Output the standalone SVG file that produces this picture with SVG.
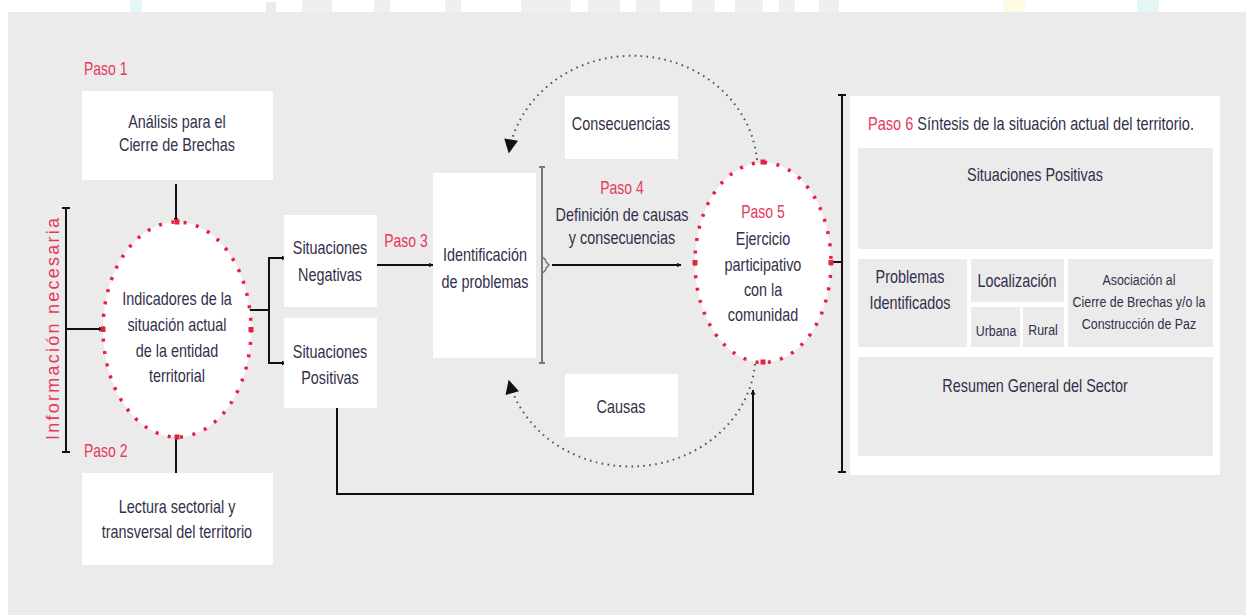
<svg xmlns="http://www.w3.org/2000/svg" width="1246" height="615" viewBox="0 0 1246 615">
<defs>
<style>
text{font-family:"Liberation Sans",Arial,sans-serif;fill:#33304a;font-size:18px;text-anchor:middle}
text:not(.rot){transform-box:fill-box;transform-origin:center;transform:scale(0.8,1)}
text.st{text-anchor:start;transform-origin:left center}
.red{fill:#e8385a;font-size:17.5px}
.sm{font-size:15.5px}
.box{fill:#ffffff}
.gbox{fill:#ebebeb}
.ln{fill:none;stroke:#111;stroke-width:2}
.dots{fill:#ffffff;stroke:#e8203f;stroke-width:3.5;stroke-dasharray:3 9.5}
.arc{fill:none;stroke:#555;stroke-width:2;stroke-dasharray:1.6 4.4}
.sq{fill:#e8203f}
</style>
<marker id="a" viewBox="0 0 10 10" refX="9" refY="5" markerWidth="5" markerHeight="5" orient="auto" markerUnits="userSpaceOnUse"><path d="M0 0 L10 5 L0 10 Z" fill="#111"/></marker>
<marker id="big" viewBox="0 0 10 10" refX="9" refY="5" markerWidth="16" markerHeight="14" orient="auto" markerUnits="userSpaceOnUse"><path d="M0 0 L10 5 L0 10 Z" fill="#111"/></marker>
</defs>
<rect x="0" y="0" width="1246" height="615" fill="#ffffff"/>
<g opacity="0.5">
<rect x="130" y="0" width="12" height="12" fill="#c8f0f0"/>
<rect x="266" y="2" width="10" height="10" fill="#d8d8d8"/>
<rect x="302" y="0" width="30" height="12" fill="#e0e0e0"/>
<rect x="374" y="0" width="16" height="12" fill="#e0e0e0"/>
<rect x="445" y="0" width="16" height="12" fill="#e0e0e0"/>
<rect x="521" y="0" width="50" height="12" fill="#e0e0e0"/>
<rect x="588" y="0" width="32" height="12" fill="#e0e0e0"/>
<rect x="636" y="0" width="24" height="12" fill="#e0e0e0"/>
<rect x="692" y="0" width="23" height="12" fill="#e0e0e0"/>
<rect x="735" y="0" width="28" height="12" fill="#e0e0e0"/>
<rect x="779" y="0" width="16" height="12" fill="#e0e0e0"/>
<rect x="819" y="0" width="20" height="12" fill="#e0e0e0"/>
<rect x="1003" y="0" width="22" height="12" fill="#fff6c8"/>
<rect x="1137" y="0" width="22" height="12" fill="#c8f0f0"/>
</g>
<rect x="8" y="12" width="1238" height="603" fill="#ebebeb"/>

<g id="connectors">
<line class="ln" x1="176" y1="184" x2="176" y2="222" marker-end="url(#a)"/>
<line class="ln" x1="176" y1="437" x2="176" y2="473"/>
<line x1="66" y1="208" x2="66" y2="452" stroke="#111" stroke-width="2"/>
<line x1="62" y1="208" x2="70" y2="208" stroke="#111" stroke-width="2"/>
<line x1="62" y1="452" x2="70" y2="452" stroke="#111" stroke-width="2"/>
<line class="ln" x1="66" y1="329" x2="103" y2="329" marker-end="url(#a)"/>
<polyline class="ln" points="247,310 269,310"/>
<polyline class="ln" points="286,258 269,258 269,363 286,363" marker-end="url(#a)"/>
<line class="ln" x1="270" y1="258" x2="286" y2="258" marker-end="url(#a)"/>
<line class="ln" x1="377" y1="265" x2="433" y2="265" marker-end="url(#a)"/>
<line x1="542" y1="167" x2="542" y2="363" stroke="#777" stroke-width="2"/>
<line x1="539" y1="167" x2="545" y2="167" stroke="#777" stroke-width="2"/>
<line x1="539" y1="363" x2="545" y2="363" stroke="#777" stroke-width="2"/>
<path d="M542 257 Q546 259 546 262 L549 265 L546 268 Q546 271 542 273" fill="none" stroke="#777" stroke-width="1.5"/>
<line class="ln" x1="552" y1="265" x2="681" y2="265" marker-end="url(#a)"/>
<line class="ln" x1="831" y1="262" x2="842" y2="262"/>
<line x1="842" y1="95" x2="842" y2="472" stroke="#111" stroke-width="2"/>
<line x1="838" y1="95" x2="846" y2="95" stroke="#111" stroke-width="2"/>
<line x1="838" y1="472" x2="846" y2="472" stroke="#111" stroke-width="2"/>
<polyline class="ln" points="337,408 337,494 753,494 753,390" marker-end="url(#a)"/>
<path class="arc" d="M757 160 A125 114 0 0 0 509 152" marker-end="url(#big)"/>
<path class="arc" d="M755 364 A125 112 0 0 1 509 381" marker-end="url(#big)"/>
</g>

<text class="red st" x="84" y="75">Paso 1</text>
<text class="red st" x="84" y="457">Paso 2</text>
<text class="red" x="406" y="247">Paso 3</text>
<text class="red rot" transform="translate(59,329) rotate(-90)" style="font-size:18px" textLength="222" lengthAdjust="spacing">Información necesaria</text>

<g id="n1"><rect class="box" x="82" y="91" width="191" height="89"/>
<text x="177" y="128">Análisis para el</text><text x="177" y="151">Cierre de Brechas</text></g>

<g id="n2"><ellipse class="dots" cx="177" cy="329.5" rx="74" ry="107.5"/>
<rect class="sq" x="174.5" y="219.5" width="5" height="5"/><rect class="sq" x="174.5" y="434.5" width="5" height="5"/>
<rect class="sq" x="100.5" y="327" width="5" height="5"/><rect class="sq" x="248.5" y="327" width="5" height="5"/>
<text x="177" y="305">Indicadores de la</text><text x="177" y="331">situación actual</text><text x="177" y="357">de la entidad</text><text x="177" y="382">territorial</text></g>

<g id="n3"><rect class="box" x="82" y="473" width="191" height="92"/>
<text x="177" y="513">Lectura sectorial y</text><text x="177" y="538">transversal del territorio</text></g>

<g id="n4"><rect class="box" x="284" y="215" width="93" height="92"/>
<text x="330" y="254">Situaciones</text><text x="330" y="281">Negativas</text></g>

<g id="n5"><rect class="box" x="284" y="318" width="93" height="90"/>
<text x="330" y="358">Situaciones</text><text x="330" y="384">Positivas</text></g>

<g id="n6"><rect class="box" x="433" y="173" width="103" height="185"/>
<text x="485" y="261">Identificación</text><text x="485" y="288">de problemas</text></g>

<g id="n7"><text class="red" x="622" y="194">Paso 4</text><text x="622" y="221">Definición de causas</text><text x="622" y="244">y consecuencias</text></g>

<g id="n8"><rect class="box" x="565" y="96" width="113" height="63"/><text x="621" y="130">Consecuencias</text></g>
<g id="n9"><rect class="box" x="565" y="374" width="113" height="63"/><text x="621" y="413">Causas</text></g>

<g id="n10"><ellipse class="dots" cx="763" cy="262.5" rx="68" ry="100"/>
<rect class="sq" x="760.5" y="159.5" width="5" height="5"/><rect class="sq" x="760.5" y="359.5" width="5" height="5"/>
<rect class="sq" x="692.5" y="260" width="5" height="5"/><rect class="sq" x="828.5" y="260" width="5" height="5"/>
<text class="red" x="763" y="218">Paso 5</text><text x="763" y="245">Ejercicio</text><text x="763" y="271">participativo</text><text x="763" y="296">con la</text><text x="763" y="321">comunidad</text></g>

<g id="n11"><rect class="box" x="850" y="96" width="370" height="379"/>
<text class="st" x="868" y="130" style="font-size:18.2px"><tspan class="red" style="font-size:18.2px">Paso 6</tspan> Síntesis de la situación actual del territorio.</text>
<rect class="gbox" x="858" y="148" width="355" height="101"/><text x="1035" y="181">Situaciones Positivas</text>
<rect class="gbox" x="858" y="259" width="109" height="88"/><text x="910" y="283">Problemas</text><text x="910" y="309">Identificados</text>
<rect class="gbox" x="971" y="259" width="93" height="43"/><text x="1017" y="287">Localización</text>
<rect class="gbox" x="971" y="307" width="49" height="40"/><text class="sm" x="996" y="336">Urbana</text>
<rect class="gbox" x="1023" y="307" width="41" height="40"/><text class="sm" x="1043" y="335">Rural</text>
<rect class="gbox" x="1068" y="259" width="145" height="88"/><text class="sm" x="1139" y="285">Asociación al</text><text class="sm" x="1139" y="307">Cierre de Brechas y/o la</text><text class="sm" x="1139" y="329">Construcción de Paz</text>
<rect class="gbox" x="858" y="357" width="355" height="99"/><text x="1035" y="392">Resumen General del Sector</text></g>
</svg>
